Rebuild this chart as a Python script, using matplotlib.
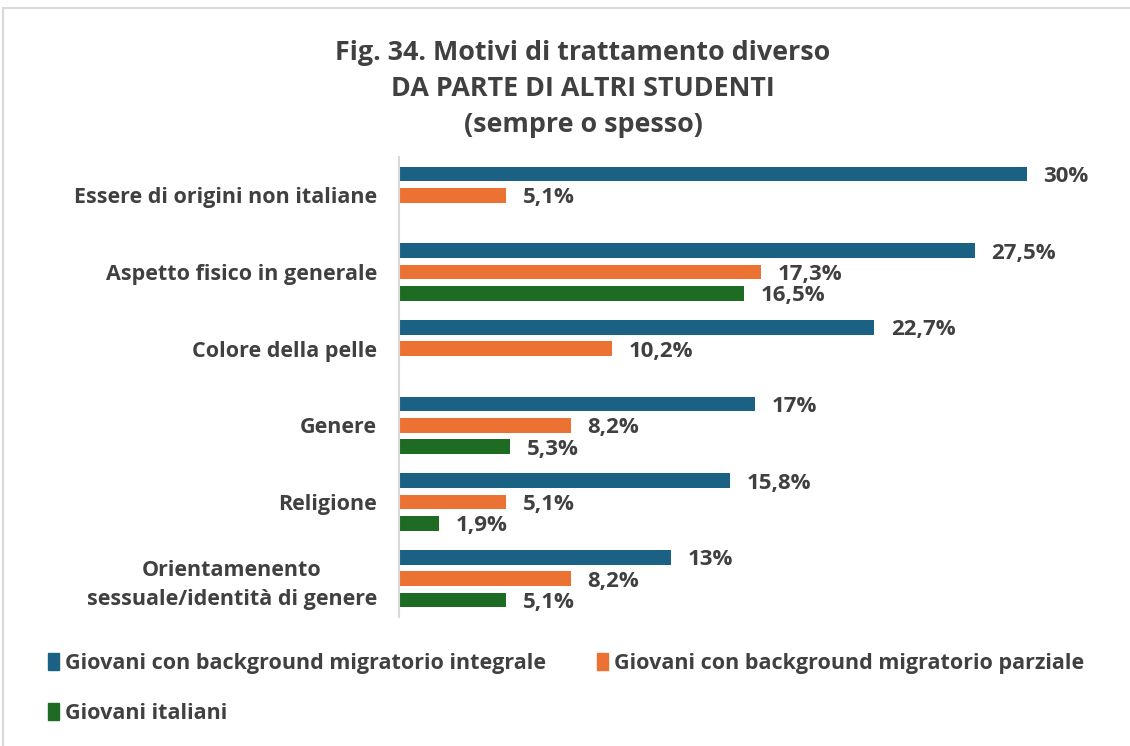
import matplotlib.pyplot as plt
from matplotlib.patches import Patch, Rectangle
import numpy as np

# Dati della figura
motivi = [
    "Essere di origini non italiane",
    "Aspetto fisico in generale",
    "Colore della pelle",
    "Genere",
    "Religione",
    "Orientamenento\nsessuale/identità di genere",
]
integrale = [30, 27.5, 22.7, 17, 15.8, 13]
parziale = [5.1, 17.3, 10.2, 8.2, 5.1, 8.2]
italiani = [None, 16.5, None, 5.3, 1.9, 5.1]

serie = ["Giovani con background migratorio integrale",
         "Giovani con background migratorio parziale",
         "Giovani italiani"]
colori = ["#1b6183", "#ec7233", "#1e6b24"]
grigio = "#404040"

plt.rcParams['font.family'] = ['Open Sans', 'DejaVu Sans']

W, H = 1130, 746
fig = plt.figure(figsize=(W / 100, H / 100), dpi=100)

# cornice grigia del grafico
fig.patches.append(Rectangle((3 / W, 0 - 0.01), 1.1, 1 - 8 / H + 0.01,
                             transform=fig.transFigure, fill=False,
                             edgecolor="#d9d9d9", linewidth=1.5))

x0, x1 = 399, 1100
y_top, y_bot = 157, 617
ax = fig.add_axes([x0 / W, 1 - y_bot / H, (x1 - x0) / W, (y_bot - y_top) / H])

px_per_pct = 20.93
ax.set_xlim(0, (x1 - x0) / px_per_pct)
ax.set_ylim(len(motivi) - 0.5, -0.5)

passo = 0.277
altezza = 0.19
y = np.arange(len(motivi))
fs = 15.5


def fmt(v):
    s = f"{v:.1f}".replace(".", ",")
    if s.endswith(",0"):
        s = s[:-2]
    return s + "%"


for k, valori in enumerate([integrale, parziale, italiani]):
    for i, v in enumerate(valori):
        if v is None:
            continue
        yy = y[i] + (k - 1) * passo
        ax.barh(yy, v, height=altezza, color=colori[k])
        ax.annotate(fmt(v), (v, yy), xytext=(12, 0), textcoords="offset points",
                    ha="left", va="center_baseline", fontsize=16, fontweight="bold",
                    color=grigio)

ax.set_yticks(y)
ax.set_yticklabels(motivi, fontsize=fs, fontweight="bold", color=grigio,
                   multialignment="center", linespacing=1.5)
ax.tick_params(axis="y", length=0, pad=16)
ax.set_xticks([])
for lato in ["top", "right", "bottom"]:
    ax.spines[lato].set_visible(False)
ax.spines["left"].set_color("#d9d9d9")
ax.spines["left"].set_linewidth(1.5)

fig.text(583 / W, 1 - 89 / H,
         "Fig. 34. Motivi di trattamento diverso\nDA PARTE DI ALTRI STUDENTI\n(sempre o spesso)",
         ha="center", va="center", fontsize=19.4, fontweight="bold", color=grigio,
         linespacing=1.48)

maniglie = [Patch(color=c) for c in colori]
# ordine per riempire le righe: integrale, parziale / italiani
leg = fig.legend([maniglie[0], maniglie[2], maniglie[1]],
                 [serie[0], serie[2], serie[1]],
                 ncol=2, loc="upper left", bbox_to_anchor=(48 / W, 1 - 653 / H),
                 frameon=False, handlelength=0.5, handleheight=0.85,
                 handletextpad=0.3, columnspacing=2.35, labelspacing=1.35,
                 borderaxespad=0, borderpad=0,
                 prop={"size": fs, "weight": "bold"})
for t in leg.get_texts():
    t.set_color(grigio)

fig.savefig("out.png", dpi=100)
